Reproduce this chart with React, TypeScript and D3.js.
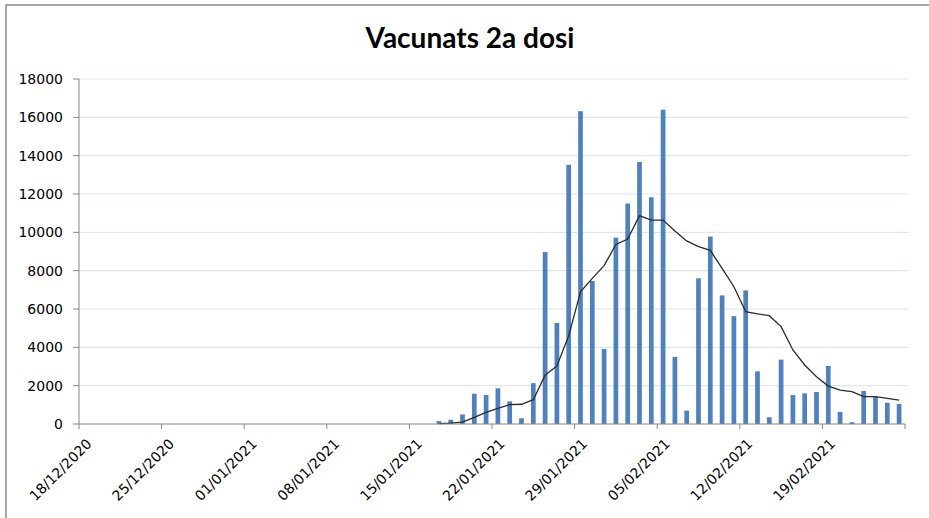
import React from "react";
import * as d3 from "d3";

const axisStart = "2020-12-18";
const axisEnd = "2021-02-26";
const firstBarDate = "2021-01-17";
const tickLabels = ["18/12/2020", "25/12/2020", "01/01/2021", "08/01/2021", "15/01/2021", "22/01/2021", "29/01/2021", "05/02/2021", "12/02/2021", "19/02/2021"];
const dosesValues = [
  150, 220, 500, 1580, 1510, 1860, 1180, 300, 2130, 8970,
  5270, 13520, 16320, 7460, 3910, 9720, 11500, 13670, 11830, 16400,
  3500, 700, 7600, 9780, 6710, 5630, 6970, 2750, 350, 3360,
  1510, 1600, 1670, 3030, 630, 90, 1720, 1430, 1110, 1040,
];
const movingAvg = [
  20, 50, 100, 350, 610, 820, 1010, 1030, 1270, 2550,
  3030, 4600, 6900, 7600, 8260, 9370, 9650, 10870, 10640, 10640,
  10070, 9550, 9250, 9060, 8120, 7160, 5860, 5740, 5650, 5080,
  3860, 3080, 2470, 1980, 1770, 1690, 1430, 1430, 1340, 1250,
];
const yTicks = [0, 2000, 4000, 6000, 8000, 10000, 12000, 14000, 16000, 18000];
const title = "Vacunats 2a dosi";

const W = 929, H = 518;
const left = 79, right = 905, top = 79, bottom = 424;
const DAY = 86400000;

export default function App() {
  const parse = d3.utcParse("%Y-%m-%d");
  const parseTick = d3.utcParse("%d/%m/%Y");
  const x = d3.scaleUtc().domain([parse(axisStart)!, parse(axisEnd)!]).range([left, right]);
  const y = d3.scaleLinear().domain([0, 18000]).range([bottom, top]);
  const dayW = x(new Date(parse(axisStart)!.getTime() + DAY)) - x(parse(axisStart)!);
  const barW = dayW * 0.4;
  const first = parse(firstBarDate)!.getTime();
  const center = (i: number) => x(new Date(first + i * DAY)) + dayW / 2;
  const line = d3.line<number>().x((_, i) => center(i)).y((d) => y(d));
  const font = "'DejaVu Sans', Verdana, sans-serif";
  return (
    <svg width={W} height={H} style={{ position: "absolute", left: 0, top: 0 }}>
      <rect x={0} y={0} width={W} height={H} fill="#fff" />
      <path d={`M6,${H} V5 H${W}`} fill="none" stroke="#8c8c8c" strokeWidth={1.5} />
      <text x={470} y={48} textAnchor="middle" fontFamily="Lato, sans-serif" fontWeight="bold" fontSize={28} fill="#000">{title}</text>
      {yTicks.map((t) => (
        <g key={t}>
          {t > 0 && <line x1={left} x2={908} y1={y(t)} y2={y(t)} stroke="#dfe5ec" strokeWidth={1.2} />}
          <line x1={left - 6} x2={left} y1={y(t)} y2={y(t)} stroke="#868686" />
          <text x={63} y={y(t)} dy="0.36em" textAnchor="end" fontFamily={font} fontSize={14} fill="#000">{t}</text>
        </g>
      ))}
      {dosesValues.map((v, i) => (
        <rect key={i} x={center(i) - barW / 2} y={y(v)} width={barW} height={bottom - y(v)} fill="#4f81bd" />
      ))}
      <path d={line(movingAvg) || ""} fill="none" stroke="#2b2b2b" strokeWidth={1.3} />
      <line x1={left} x2={left} y1={top} y2={bottom} stroke="#868686" />
      <line x1={left} x2={right} y1={bottom} y2={bottom} stroke="#868686" />
      {[...tickLabels, null].map((lab, i) => {
        const tx = lab ? x(parseTick(lab)!) : x(parse(axisEnd)!);
        return (
          <g key={i}>
            <line x1={tx} x2={tx} y1={bottom} y2={bottom + 5} stroke="#868686" />
            {lab && (
              <text transform={`translate(${tx + 10},${bottom + 17}) rotate(-45)`} dy="0.36em" textAnchor="end" fontFamily={font} fontSize={14} fill="#000">{lab}</text>
            )}
          </g>
        );
      })}
    </svg>
  );
}
